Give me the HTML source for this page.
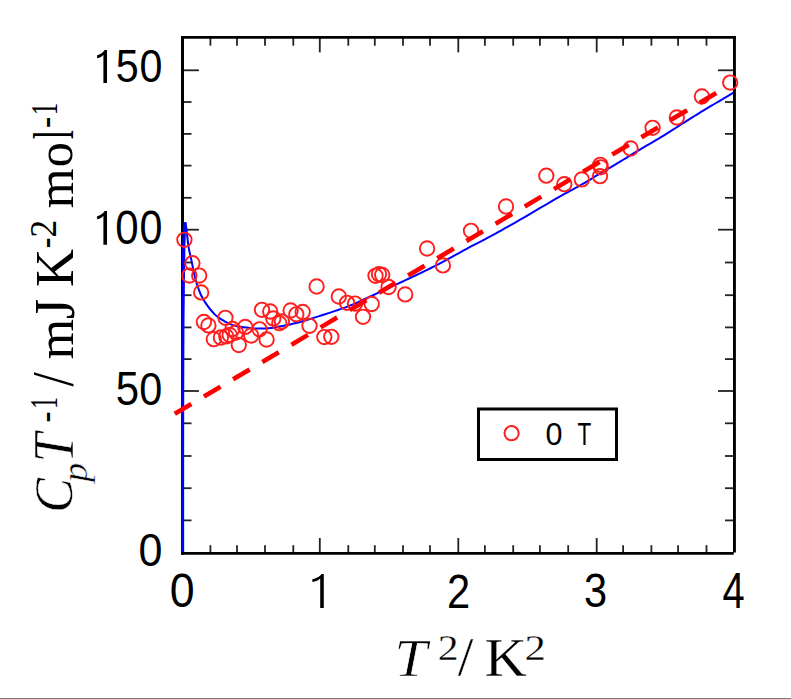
<!DOCTYPE html>
<html><head><meta charset="utf-8"><style>
html,body{margin:0;padding:0;background:#fff;}
body{width:791px;height:699px;overflow:hidden;position:relative;}
svg{position:absolute;left:0;top:0;}
text{fill:#000;}
</style></head><body>
<svg width="791" height="699" viewBox="0 0 791 699">
<rect x="0" y="0" width="791" height="699" fill="#fff"/>
<g stroke="#222" stroke-width="1.8" fill="none">
<line x1="210.40" y1="553.4" x2="210.40" y2="545.20"/>
<line x1="210.40" y1="37.5" x2="210.40" y2="45.70"/>
<line x1="237.00" y1="553.4" x2="237.00" y2="545.20"/>
<line x1="237.00" y1="37.5" x2="237.00" y2="45.70"/>
<line x1="265.00" y1="553.4" x2="265.00" y2="545.20"/>
<line x1="265.00" y1="37.5" x2="265.00" y2="45.70"/>
<line x1="293.30" y1="553.4" x2="293.30" y2="545.20"/>
<line x1="293.30" y1="37.5" x2="293.30" y2="45.70"/>
<line x1="319.80" y1="553.4" x2="319.80" y2="538.00"/>
<line x1="319.80" y1="37.5" x2="319.80" y2="52.40"/>
<line x1="348.30" y1="553.4" x2="348.30" y2="545.20"/>
<line x1="348.30" y1="37.5" x2="348.30" y2="45.70"/>
<line x1="374.80" y1="553.4" x2="374.80" y2="545.20"/>
<line x1="374.80" y1="37.5" x2="374.80" y2="45.70"/>
<line x1="403.00" y1="553.4" x2="403.00" y2="545.20"/>
<line x1="403.00" y1="37.5" x2="403.00" y2="45.70"/>
<line x1="430.00" y1="553.4" x2="430.00" y2="545.20"/>
<line x1="430.00" y1="37.5" x2="430.00" y2="45.70"/>
<line x1="458.30" y1="553.4" x2="458.30" y2="538.00"/>
<line x1="458.30" y1="37.5" x2="458.30" y2="52.40"/>
<line x1="484.90" y1="553.4" x2="484.90" y2="545.20"/>
<line x1="484.90" y1="37.5" x2="484.90" y2="45.70"/>
<line x1="513.20" y1="553.4" x2="513.20" y2="545.20"/>
<line x1="513.20" y1="37.5" x2="513.20" y2="45.70"/>
<line x1="539.90" y1="553.4" x2="539.90" y2="545.20"/>
<line x1="539.90" y1="37.5" x2="539.90" y2="45.70"/>
<line x1="568.20" y1="553.4" x2="568.20" y2="545.20"/>
<line x1="568.20" y1="37.5" x2="568.20" y2="45.70"/>
<line x1="596.70" y1="553.4" x2="596.70" y2="538.00"/>
<line x1="596.70" y1="37.5" x2="596.70" y2="52.40"/>
<line x1="623.10" y1="553.4" x2="623.10" y2="545.20"/>
<line x1="623.10" y1="37.5" x2="623.10" y2="45.70"/>
<line x1="651.40" y1="553.4" x2="651.40" y2="545.20"/>
<line x1="651.40" y1="37.5" x2="651.40" y2="45.70"/>
<line x1="678.10" y1="553.4" x2="678.10" y2="545.20"/>
<line x1="678.10" y1="37.5" x2="678.10" y2="45.70"/>
<line x1="706.50" y1="553.4" x2="706.50" y2="545.20"/>
<line x1="706.50" y1="37.5" x2="706.50" y2="45.70"/>
<line x1="182.5" y1="520.40" x2="191.50" y2="520.40"/>
<line x1="734.5" y1="520.40" x2="725.00" y2="520.40"/>
<line x1="182.5" y1="488.20" x2="191.50" y2="488.20"/>
<line x1="734.5" y1="488.20" x2="725.00" y2="488.20"/>
<line x1="182.5" y1="456.00" x2="191.50" y2="456.00"/>
<line x1="734.5" y1="456.00" x2="725.00" y2="456.00"/>
<line x1="182.5" y1="423.30" x2="191.50" y2="423.30"/>
<line x1="734.5" y1="423.30" x2="725.00" y2="423.30"/>
<line x1="182.5" y1="391.00" x2="198.90" y2="391.00"/>
<line x1="734.5" y1="391.00" x2="718.00" y2="391.00"/>
<line x1="182.5" y1="359.10" x2="191.50" y2="359.10"/>
<line x1="734.5" y1="359.10" x2="725.00" y2="359.10"/>
<line x1="182.5" y1="327.40" x2="191.50" y2="327.40"/>
<line x1="734.5" y1="327.40" x2="725.00" y2="327.40"/>
<line x1="182.5" y1="295.20" x2="191.50" y2="295.20"/>
<line x1="734.5" y1="295.20" x2="725.00" y2="295.20"/>
<line x1="182.5" y1="262.50" x2="191.50" y2="262.50"/>
<line x1="734.5" y1="262.50" x2="725.00" y2="262.50"/>
<line x1="182.5" y1="229.70" x2="198.90" y2="229.70"/>
<line x1="734.5" y1="229.70" x2="718.00" y2="229.70"/>
<line x1="182.5" y1="197.80" x2="191.50" y2="197.80"/>
<line x1="734.5" y1="197.80" x2="725.00" y2="197.80"/>
<line x1="182.5" y1="165.60" x2="191.50" y2="165.60"/>
<line x1="734.5" y1="165.60" x2="725.00" y2="165.60"/>
<line x1="182.5" y1="133.90" x2="191.50" y2="133.90"/>
<line x1="734.5" y1="133.90" x2="725.00" y2="133.90"/>
<line x1="182.5" y1="102.00" x2="191.50" y2="102.00"/>
<line x1="734.5" y1="102.00" x2="725.00" y2="102.00"/>
<line x1="182.5" y1="70.30" x2="198.90" y2="70.30"/>
<line x1="734.5" y1="70.30" x2="718.00" y2="70.30"/>
</g>
<g stroke="#000" fill="none">
<path d="M181,37.35 H735.9" stroke-width="2.8"/>
<path d="M182.5,36 V554.7" stroke-width="3"/>
<path d="M734.45,36 V552.6" stroke-width="2.9"/>
<path d="M181,553.4 H733.7" stroke-width="2.7"/>
</g>
<path d="M182.55,552.20 C182.55,535.17 182.53,478.70 182.55,450.00 C182.57,421.30 182.59,401.67 182.65,380.00 C182.71,358.33 182.78,337.50 182.90,320.00 C183.03,302.50 183.26,286.67 183.40,275.00 C183.54,263.33 183.62,256.67 183.75,250.00 C183.88,243.33 184.06,238.92 184.20,235.00 C184.34,231.08 184.43,228.63 184.60,226.50 C184.77,224.37 185.10,222.92 185.20,222.20" stroke="#0000ff" stroke-width="3.2" fill="none" stroke-linejoin="round"/>
<path d="M185.20,222.20 C185.35,222.92 185.80,224.53 186.10,226.50 C186.40,228.47 186.60,230.65 187.00,234.00 C187.40,237.35 187.97,243.10 188.50,246.60 C189.03,250.10 189.65,252.43 190.20,255.00 C190.75,257.57 191.28,259.55 191.80,262.00 C192.32,264.45 192.80,267.28 193.30,269.70 C193.80,272.12 194.18,274.03 194.80,276.50 C195.42,278.97 195.97,281.42 197.00,284.50 C198.03,287.58 199.67,292.07 201.00,295.00 C202.33,297.93 203.50,299.77 205.00,302.10 C206.50,304.43 208.33,306.92 210.00,309.00 C211.67,311.08 213.32,313.00 215.00,314.60 C216.68,316.20 218.42,317.43 220.10,318.60 C221.78,319.77 223.43,320.68 225.10,321.60 C226.77,322.52 228.28,323.36 230.10,324.10 C231.92,324.84 234.18,325.58 236.00,326.04 C237.82,326.50 239.33,326.60 241.00,326.86 C242.67,327.12 244.33,327.37 246.00,327.59 C247.67,327.81 249.33,328.01 251.00,328.17 C252.67,328.33 254.33,328.45 256.00,328.53 C257.67,328.60 259.33,328.63 261.00,328.61 C262.67,328.59 264.33,328.53 266.00,328.41 C267.67,328.30 269.33,328.14 271.00,327.94 C272.67,327.74 274.33,327.49 276.00,327.22 C277.67,326.95 279.33,326.63 281.00,326.31 C282.67,325.99 284.33,325.66 286.00,325.31 C287.67,324.96 289.33,324.61 291.00,324.23 C292.67,323.85 294.33,323.46 296.00,323.04 C297.67,322.62 299.33,322.18 301.00,321.72 C302.67,321.25 304.33,320.76 306.00,320.26 C307.67,319.76 309.33,319.24 311.00,318.72 C312.67,318.20 314.33,317.66 316.00,317.13 C317.67,316.60 319.33,316.06 321.00,315.53 C322.67,315.00 324.33,314.47 326.00,313.94 C327.67,313.40 329.33,312.87 331.00,312.33 C332.67,311.78 334.33,311.24 336.00,310.67 C337.67,310.10 339.33,309.52 341.00,308.92 C342.67,308.32 344.33,307.71 346.00,307.07 C347.67,306.44 349.33,305.79 351.00,305.12 C352.67,304.45 354.33,303.77 356.00,303.05 C357.67,302.33 359.33,301.58 361.00,300.82 C362.67,300.06 364.33,299.26 366.00,298.49 C367.67,297.71 369.33,296.93 371.00,296.16 C372.67,295.39 374.33,294.63 376.00,293.86 C377.67,293.09 379.33,292.33 381.00,291.56 C382.67,290.79 384.33,290.01 386.00,289.23 C387.67,288.46 389.33,287.68 391.00,286.91 C392.67,286.13 394.33,285.36 396.00,284.58 C397.67,283.81 399.33,283.04 401.00,282.26 C402.67,281.48 404.33,280.71 406.00,279.93 C407.67,279.15 409.33,278.37 411.00,277.59 C412.67,276.81 414.33,276.02 416.00,275.24 C417.67,274.45 419.33,273.65 421.00,272.85 C422.67,272.06 424.33,271.25 426.00,270.44 C427.67,269.63 429.33,268.81 431.00,267.98 C432.67,267.15 434.33,266.32 436.00,265.47 C437.67,264.62 439.33,263.77 441.00,262.90 C442.67,262.02 444.33,261.14 446.00,260.23 C447.67,259.33 449.33,258.39 451.00,257.47 C452.67,256.55 454.33,255.61 456.00,254.68 C457.67,253.76 459.33,252.83 461.00,251.91 C462.67,250.99 464.33,250.06 466.00,249.15 C467.67,248.23 469.33,247.31 471.00,246.42 C472.67,245.53 474.33,244.66 476.00,243.81 C477.67,242.96 479.33,242.16 481.00,241.31 C482.67,240.46 484.33,239.58 486.00,238.70 C487.67,237.82 489.33,236.91 491.00,236.01 C492.67,235.11 494.33,234.20 496.00,233.28 C497.67,232.37 499.33,231.45 501.00,230.53 C502.67,229.60 504.33,228.67 506.00,227.74 C507.67,226.81 509.33,225.87 511.00,224.92 C512.67,223.98 514.33,223.03 516.00,222.08 C517.67,221.13 519.33,220.18 521.00,219.21 C522.67,218.25 524.33,217.29 526.00,216.32 C527.67,215.34 529.33,214.36 531.00,213.38 C532.67,212.40 534.33,211.42 536.00,210.44 C537.67,209.45 539.33,208.47 541.00,207.48 C542.67,206.49 544.33,205.51 546.00,204.52 C547.67,203.53 549.33,202.54 551.00,201.57 C552.67,200.59 554.33,199.61 556.00,198.65 C557.67,197.69 559.33,196.74 561.00,195.81 C562.67,194.89 564.33,193.98 566.00,193.08 C567.67,192.17 569.33,191.29 571.00,190.39 C572.67,189.49 574.33,188.58 576.00,187.66 C577.67,186.74 579.33,185.81 581.00,184.87 C582.67,183.93 584.33,182.98 586.00,182.01 C587.67,181.04 589.33,180.05 591.00,179.04 C592.67,178.03 594.33,176.98 596.00,175.96 C597.67,174.94 599.33,173.93 601.00,172.93 C602.67,171.93 604.33,170.95 606.00,169.97 C607.67,168.98 609.33,168.00 611.00,167.02 C612.67,166.03 614.33,165.05 616.00,164.06 C617.67,163.07 619.33,162.08 621.00,161.08 C622.67,160.07 624.33,159.05 626.00,158.03 C627.67,157.00 629.33,155.96 631.00,154.94 C632.67,153.92 634.33,152.90 636.00,151.90 C637.67,150.90 639.33,149.91 641.00,148.93 C642.67,147.94 644.33,146.96 646.00,145.98 C647.67,144.99 649.33,144.02 651.00,143.04 C652.67,142.06 654.33,141.09 656.00,140.11 C657.67,139.12 659.33,138.14 661.00,137.13 C662.67,136.13 664.33,135.11 666.00,134.08 C667.67,133.05 669.33,132.00 671.00,130.95 C672.67,129.90 674.33,128.83 676.00,127.76 C677.67,126.69 679.33,125.59 681.00,124.52 C682.67,123.44 684.33,122.35 686.00,121.29 C687.67,120.22 689.33,119.17 691.00,118.13 C692.67,117.08 694.33,116.05 696.00,115.03 C697.67,114.00 699.33,112.98 701.00,111.97 C702.67,110.96 704.33,109.96 706.00,108.96 C707.67,107.96 709.33,106.97 711.00,105.98 C712.67,104.99 714.33,104.00 716.00,103.01 C717.67,102.02 719.33,101.03 721.00,100.04 C722.67,99.05 724.33,98.07 726.00,97.08 C727.67,96.10 729.75,94.86 731.00,94.13 C732.25,93.39 733.08,92.90 733.50,92.65" stroke="#0000ff" stroke-width="2.0" fill="none" stroke-linejoin="round"/>
<g stroke="#ff1e1e" stroke-width="1.9" fill="none">
<circle cx="184.4" cy="239.8" r="7.2"/>
<circle cx="192.4" cy="263.2" r="7.2"/>
<circle cx="189.4" cy="275.6" r="7.2"/>
<circle cx="199.2" cy="275.6" r="7.2"/>
<circle cx="201.2" cy="292.4" r="7.2"/>
<circle cx="203.9" cy="322" r="7.2"/>
<circle cx="208.4" cy="325.4" r="7.2"/>
<circle cx="225.4" cy="317.8" r="7.2"/>
<circle cx="238.8" cy="345" r="7.2"/>
<circle cx="213.8" cy="339.2" r="7.2"/>
<circle cx="220.9" cy="337.5" r="7.2"/>
<circle cx="226.3" cy="336.4" r="7.2"/>
<circle cx="229.7" cy="335" r="7.2"/>
<circle cx="245.2" cy="326.9" r="7.2"/>
<circle cx="251.2" cy="335.5" r="7.2"/>
<circle cx="262" cy="309.8" r="7.2"/>
<circle cx="270.2" cy="311.5" r="7.2"/>
<circle cx="273.3" cy="318.5" r="7.2"/>
<circle cx="279.3" cy="323.2" r="7.2"/>
<circle cx="281.9" cy="321.5" r="7.2"/>
<circle cx="290.6" cy="310.5" r="7.2"/>
<circle cx="296.3" cy="314.3" r="7.2"/>
<circle cx="302.7" cy="312" r="7.2"/>
<circle cx="309.5" cy="325.8" r="7.2"/>
<circle cx="259.6" cy="329.3" r="7.2"/>
<circle cx="266.6" cy="339.5" r="7.2"/>
<circle cx="316.6" cy="286.5" r="7.2"/>
<circle cx="338.8" cy="296.5" r="7.2"/>
<circle cx="347" cy="302.8" r="7.2"/>
<circle cx="355" cy="303.6" r="7.2"/>
<circle cx="371.7" cy="304" r="7.2"/>
<circle cx="363" cy="316.8" r="7.2"/>
<circle cx="324.3" cy="337.1" r="7.2"/>
<circle cx="331.3" cy="336.8" r="7.2"/>
<circle cx="427.1" cy="248.5" r="7.2"/>
<circle cx="375.5" cy="275.8" r="7.2"/>
<circle cx="379" cy="274.2" r="7.2"/>
<circle cx="382.2" cy="275" r="7.2"/>
<circle cx="388.6" cy="287" r="7.2"/>
<circle cx="405.2" cy="294.4" r="7.2"/>
<circle cx="442.9" cy="265.4" r="7.2"/>
<circle cx="471" cy="230.8" r="7.2"/>
<circle cx="506" cy="206.5" r="7.2"/>
<circle cx="546.3" cy="175.7" r="7.2"/>
<circle cx="564.3" cy="184.2" r="7.2"/>
<circle cx="581.8" cy="179.4" r="7.2"/>
<circle cx="600.3" cy="164.8" r="7.2"/>
<circle cx="600.8" cy="167.3" r="7.2"/>
<circle cx="600" cy="176.2" r="7.2"/>
<circle cx="630.6" cy="148.5" r="7.2"/>
<circle cx="652.6" cy="127.8" r="7.2"/>
<circle cx="676.8" cy="117.5" r="7.2"/>
<circle cx="701.9" cy="96.5" r="7.2"/>
<circle cx="730.2" cy="82.6" r="7.2"/>
<circle cx="232.5" cy="329" r="7.2"/>
<circle cx="236" cy="332.5" r="7.2"/>
</g>
<line x1="174.8" y1="413.8" x2="716.30" y2="92.91" stroke="#ff0000" stroke-width="4.6" stroke-dasharray="19.2 14.7"/>
<rect x="478.5" y="409" width="138" height="50.5" stroke="#000" stroke-width="3" fill="#fff"/>
<circle cx="511.6" cy="433.2" r="7.1" stroke="#ff1e1e" stroke-width="2" fill="none"/>
<path d="M103.40,53.10 L103.40,82.90 L107.00,82.90 L107.00,50.10 L104.60,50.10 C103.40,52.70 100.10,54.70 97.10,55.30 L97.10,58.30 C100.10,57.70 102.00,56.70 103.40,54.70 Z" fill="#000"/>
<text transform="matrix(0.41340,0.00000,0.00000,0.47008,115.64480,82.44094)" style="font-family:'Liberation Sans',sans-serif;font-style:normal;font-size:100px">5</text>
<text transform="matrix(0.41211,0.00000,0.00000,0.46327,139.49019,82.44759)" style="font-family:'Liberation Sans',sans-serif;font-style:normal;font-size:100px">0</text>
<path d="M103.40,214.10 L103.40,244.80 L107.00,244.80 L107.00,211.10 L104.60,211.10 C103.40,213.70 100.10,215.70 97.10,216.30 L97.10,219.30 C100.10,218.70 102.00,217.70 103.40,215.70 Z" fill="#000"/>
<text transform="matrix(0.42048,0.00000,0.00000,0.47598,115.15751,244.33517)" style="font-family:'Liberation Sans',sans-serif;font-style:normal;font-size:100px">0</text>
<text transform="matrix(0.41211,0.00000,0.00000,0.47598,139.49019,244.33517)" style="font-family:'Liberation Sans',sans-serif;font-style:normal;font-size:100px">0</text>
<text transform="matrix(0.41972,0.00000,0.00000,0.47151,115.71946,405.23954)" style="font-family:'Liberation Sans',sans-serif;font-style:normal;font-size:100px">5</text>
<text transform="matrix(0.41420,0.00000,0.00000,0.46468,139.18202,405.24621)" style="font-family:'Liberation Sans',sans-serif;font-style:normal;font-size:100px">0</text>
<text transform="matrix(0.43094,0.00000,0.00000,0.46327,138.61665,566.34759)" style="font-family:'Liberation Sans',sans-serif;font-style:normal;font-size:100px">0</text>
<text transform="matrix(0.44767,0.00000,0.00000,0.47316,169.65128,606.93793)" style="font-family:'Liberation Sans',sans-serif;font-style:normal;font-size:100px">0</text>
<path d="M320.20,576.90 L320.20,608.00 L323.80,608.00 L323.80,573.90 L321.40,573.90 C320.20,576.50 315.40,578.50 312.40,579.10 L312.40,582.10 C315.40,581.50 318.80,580.50 320.20,578.50 Z" fill="#000"/>
<text transform="matrix(0.41706,0.00000,0.00000,0.48837,446.90247,607.80000)" style="font-family:'Liberation Sans',sans-serif;font-style:normal;font-size:100px">2</text>
<text transform="matrix(0.41551,0.00000,0.00000,0.47598,583.91751,607.13517)" style="font-family:'Liberation Sans',sans-serif;font-style:normal;font-size:100px">3</text>
<text transform="matrix(0.39888,0.00000,0.00000,0.49565,722.58459,608.00000)" style="font-family:'Liberation Sans',sans-serif;font-style:normal;font-size:100px">4</text>
<text transform="matrix(0.30542,0.00000,0.00000,0.31921,545.60695,444.58828)" style="font-family:'Liberation Sans',sans-serif;font-style:normal;font-size:100px">0</text>
<text transform="matrix(0.22638,0.00000,0.00000,0.32268,577.49154,444.90000)" style="font-family:'Liberation Sans',sans-serif;font-style:normal;font-size:100px">T</text>
<text transform="matrix(0.59112,0.00000,0.00000,0.53605,394.33233,675.90000)" stroke="#fff" stroke-width="1.244" style="font-family:'Liberation Serif',serif;font-style:italic;font-size:100px">T</text>
<text transform="matrix(0.41658,0.00000,0.00000,0.35342,437.66931,660.10000)" stroke="#fff" stroke-width="0.782" style="font-family:'Liberation Serif',serif;font-style:normal;font-size:100px">2</text>
<text transform="matrix(0.56149,0.00000,0.00000,0.54564,457.70000,675.26715)" stroke="#fff" stroke-width="0.542" style="font-family:'Liberation Serif',serif;font-style:normal;font-size:100px">/</text>
<text transform="matrix(0.58556,0.00000,0.00000,0.54216,484.61308,675.90000)" stroke="#fff" stroke-width="0.532" style="font-family:'Liberation Serif',serif;font-style:normal;font-size:100px">K</text>
<text transform="matrix(0.42656,0.00000,0.00000,0.35191,524.42546,660.00000)" stroke="#fff" stroke-width="0.774" style="font-family:'Liberation Serif',serif;font-style:normal;font-size:100px">2</text>
<text transform="matrix(0.00000,-0.52046,0.55408,0.00000,72.18596,512.79709)" stroke="#fff" stroke-width="0.931" style="font-family:'Liberation Serif',serif;font-style:italic;font-size:100px">C</text>
<text transform="matrix(0.00000,-0.38613,0.36253,0.00000,87.08208,481.93752)" stroke="#fff" stroke-width="1.336" style="font-family:'Liberation Serif',serif;font-style:italic;font-size:100px">p</text>
<text transform="matrix(0.00000,-0.52746,0.56965,0.00000,73.20000,462.55115)" stroke="#fff" stroke-width="0.912" style="font-family:'Liberation Serif',serif;font-style:italic;font-size:100px">T</text>
<text transform="matrix(0.00000,-0.33107,0.40157,0.00000,57.86078,422.52857)" style="font-family:'Liberation Serif',serif;font-style:normal;font-size:100px">-</text>
<text transform="matrix(0.00000,-0.23576,0.39082,0.00000,57.20000,408.77212)" style="font-family:'Liberation Serif',serif;font-style:normal;font-size:100px">1</text>
<text transform="matrix(0.00000,-0.51110,0.59796,0.00000,73.41606,386.50000)" style="font-family:'Liberation Serif',serif;font-style:normal;font-size:100px">/</text>
<text transform="matrix(0.00000,-0.51942,0.53269,0.00000,72.60000,359.19058)" style="font-family:'Liberation Serif',serif;font-style:normal;font-size:100px">m</text>
<text transform="matrix(0.00000,-0.51848,0.57332,0.00000,73.54012,319.08861)" style="font-family:'Liberation Serif',serif;font-style:normal;font-size:100px">J</text>
<text transform="matrix(0.00000,-0.52847,0.55591,0.00000,72.60000,287.02244)" style="font-family:'Liberation Serif',serif;font-style:normal;font-size:100px">K</text>
<text transform="matrix(0.00000,-0.31952,0.40157,0.00000,57.86078,248.28571)" style="font-family:'Liberation Serif',serif;font-style:normal;font-size:100px">-</text>
<text transform="matrix(0.00000,-0.35173,0.38513,0.00000,56.40000,237.54568)" style="font-family:'Liberation Serif',serif;font-style:normal;font-size:100px">2</text>
<text transform="matrix(0.00000,-0.51133,0.53481,0.00000,72.90000,208.27358)" style="font-family:'Liberation Serif',serif;font-style:normal;font-size:100px">m</text>
<text transform="matrix(0.00000,-0.50256,0.50732,0.00000,72.40457,167.31406)" style="font-family:'Liberation Serif',serif;font-style:normal;font-size:100px">o</text>
<text transform="matrix(0.00000,-0.33222,0.56785,0.00000,72.90000,139.26509)" style="font-family:'Liberation Serif',serif;font-style:normal;font-size:100px">l</text>
<text transform="matrix(0.00000,-0.33492,0.40157,0.00000,57.56078,128.04286)" style="font-family:'Liberation Serif',serif;font-style:normal;font-size:100px">-</text>
<text transform="matrix(0.00000,-0.25280,0.37112,0.00000,57.20000,115.32191)" style="font-family:'Liberation Serif',serif;font-style:normal;font-size:100px">1</text>
<rect x="0" y="698" width="791" height="1" fill="#767676"/>
</svg>
</body></html>
